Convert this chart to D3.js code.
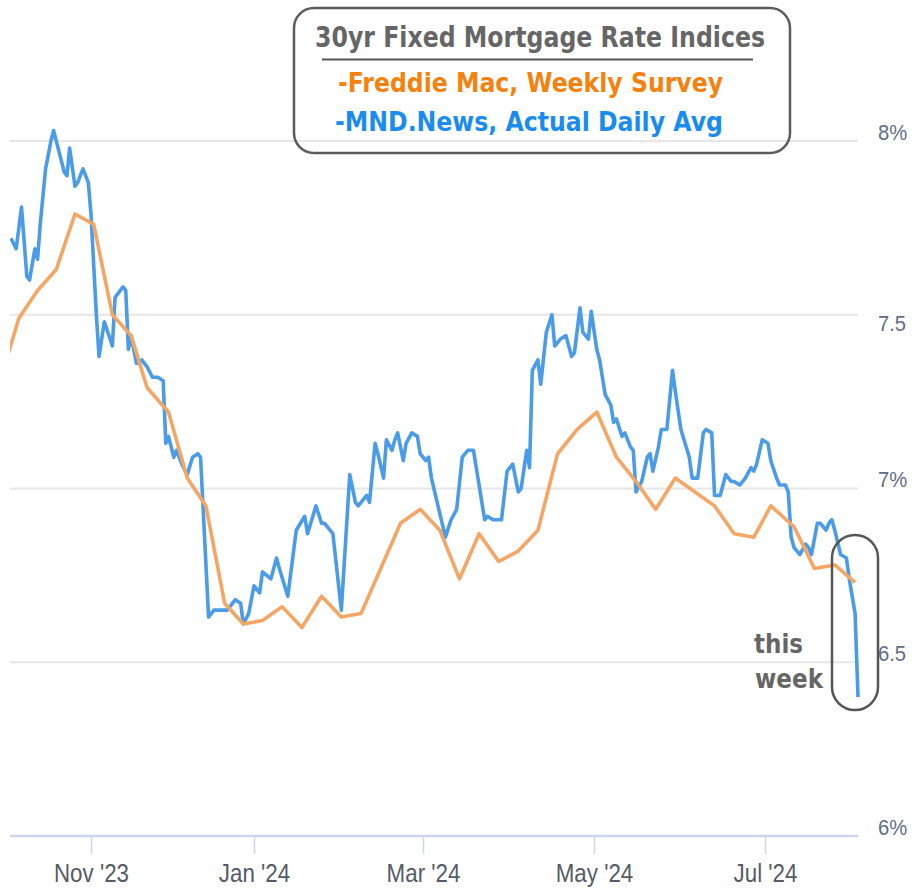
<!DOCTYPE html>
<html>
<head>
<meta charset="utf-8">
<script src="https://cdn.jsdelivr.net/npm/d3@7/dist/d3.min.js"></script>
<style>
  html, body { margin: 0; padding: 0; background: #fff; }
  svg { display: block; }
</style>
</head>
<body>
<div id="chart"></div>
<script>
// Freddie Mac weekly survey, 30yr fixed (%)
const freddieDates = [
  "2023-09-28", "2023-10-05", "2023-10-12", "2023-10-19", "2023-10-26",
  "2023-11-02", "2023-11-09", "2023-11-16", "2023-11-22", "2023-11-30",
  "2023-12-07", "2023-12-14", "2023-12-21", "2023-12-28",
  "2024-01-04", "2024-01-11", "2024-01-18", "2024-01-25",
  "2024-02-01", "2024-02-08", "2024-02-15", "2024-02-22", "2024-02-29",
  "2024-03-07", "2024-03-14", "2024-03-21", "2024-03-28",
  "2024-04-04", "2024-04-11", "2024-04-18", "2024-04-25",
  "2024-05-02", "2024-05-09", "2024-05-16", "2024-05-23", "2024-05-30",
  "2024-06-06", "2024-06-13", "2024-06-20", "2024-06-27",
  "2024-07-03", "2024-07-11", "2024-07-18", "2024-07-25", "2024-08-01"
];
const freddieRates = [
  7.31, 7.49, 7.57, 7.63, 7.79,
  7.76, 7.50, 7.44, 7.29, 7.22,
  7.03, 6.95, 6.67, 6.61,
  6.62, 6.66, 6.60, 6.69,
  6.63, 6.64, 6.77, 6.90, 6.94,
  6.88, 6.74, 6.87, 6.79,
  6.82, 6.88, 7.10, 7.17,
  7.22, 7.09, 7.02, 6.94, 7.03,
  6.99, 6.95, 6.87, 6.86,
  6.95, 6.89, 6.77, 6.78, 6.73
];

// MND daily index, 30yr fixed (%)
const mndDates = [
  "2023-10-02", "2023-10-04", "2023-10-06", "2023-10-08", "2023-10-09", "2023-10-11", "2023-10-12",
  "2023-10-13", "2023-10-15", "2023-10-17", "2023-10-18", "2023-10-20", "2023-10-22", "2023-10-23",
  "2023-10-24", "2023-10-26", "2023-10-27", "2023-10-29", "2023-10-31",
  "2023-11-01", "2023-11-03", "2023-11-04", "2023-11-06", "2023-11-09", "2023-11-10", "2023-11-13",
  "2023-11-14", "2023-11-15", "2023-11-16", "2023-11-18", "2023-11-20", "2023-11-22", "2023-11-24",
  "2023-11-26", "2023-11-28", "2023-11-29", "2023-11-30",
  "2023-12-02", "2023-12-03", "2023-12-05", "2023-12-07", "2023-12-09", "2023-12-11", "2023-12-12",
  "2023-12-15", "2023-12-17", "2023-12-19", "2023-12-21", "2023-12-22", "2023-12-24", "2023-12-25",
  "2023-12-27", "2023-12-28", "2023-12-30",
  "2024-01-01", "2024-01-03", "2024-01-04", "2024-01-07", "2024-01-09", "2024-01-10", "2024-01-13",
  "2024-01-16", "2024-01-19", "2024-01-20", "2024-01-23", "2024-01-25", "2024-01-26", "2024-01-28",
  "2024-01-29",
  "2024-02-01", "2024-02-04", "2024-02-06", "2024-02-07", "2024-02-09", "2024-02-10", "2024-02-11",
  "2024-02-13", "2024-02-14", "2024-02-16", "2024-02-17", "2024-02-19", "2024-02-20", "2024-02-21",
  "2024-02-23", "2024-02-24", "2024-02-26", "2024-02-28", "2024-02-29",
  "2024-03-02", "2024-03-03", "2024-03-04", "2024-03-09", "2024-03-11", "2024-03-13", "2024-03-15",
  "2024-03-17", "2024-03-19", "2024-03-23", "2024-03-24", "2024-03-26", "2024-03-29", "2024-03-31",
  "2024-04-02", "2024-04-04", "2024-04-05", "2024-04-07", "2024-04-08", "2024-04-09", "2024-04-11",
  "2024-04-12", "2024-04-14", "2024-04-16", "2024-04-17", "2024-04-19", "2024-04-21", "2024-04-23",
  "2024-04-24", "2024-04-26", "2024-04-27", "2024-04-29", "2024-04-30",
  "2024-05-02", "2024-05-03", "2024-05-05", "2024-05-07", "2024-05-08", "2024-05-09", "2024-05-11",
  "2024-05-12", "2024-05-14", "2024-05-15", "2024-05-16", "2024-05-18", "2024-05-20", "2024-05-21",
  "2024-05-22", "2024-05-24", "2024-05-25", "2024-05-27", "2024-05-29", "2024-05-30",
  "2024-06-01", "2024-06-04", "2024-06-05", "2024-06-07", "2024-06-09", "2024-06-10", "2024-06-12",
  "2024-06-13", "2024-06-15", "2024-06-16", "2024-06-17", "2024-06-19", "2024-06-20", "2024-06-22",
  "2024-06-24", "2024-06-26", "2024-06-27", "2024-06-28", "2024-06-30",
  "2024-07-02", "2024-07-03", "2024-07-05", "2024-07-06", "2024-07-08", "2024-07-09", "2024-07-10",
  "2024-07-11", "2024-07-13", "2024-07-15", "2024-07-16", "2024-07-17", "2024-07-19", "2024-07-20",
  "2024-07-22", "2024-07-23", "2024-07-24", "2024-07-25", "2024-07-27", "2024-07-29", "2024-07-30",
  "2024-08-01", "2024-08-02"
];
const mndRates = [
  7.72, 7.69, 7.81, 7.61, 7.60, 7.69, 7.66,
  7.76, 7.92, 8.00, 8.03, 7.97, 7.91, 7.90,
  7.98, 7.87, 7.88, 7.92, 7.88,
  7.79, 7.50, 7.38, 7.48, 7.41, 7.55, 7.58,
  7.57, 7.40, 7.44, 7.36, 7.37, 7.35, 7.32,
  7.32, 7.31, 7.13, 7.15,
  7.09, 7.11, 7.07, 7.04, 7.09, 7.10, 7.09,
  6.63, 6.65, 6.65, 6.65, 6.65, 6.67, 6.68,
  6.67, 6.61, 6.64,
  6.72, 6.70, 6.76, 6.74, 6.80, 6.77, 6.69,
  6.88, 6.92, 6.87, 6.95, 6.90, 6.90, 6.88,
  6.87,
  6.65, 7.04, 6.96, 6.95, 6.97, 6.98, 6.96,
  7.13, 7.10, 7.03, 7.14, 7.11, 7.14, 7.16,
  7.08, 7.13, 7.16, 7.15, 7.10,
  7.08, 7.09, 7.03, 6.86, 6.91, 6.94, 7.09,
  7.11, 7.11, 6.91, 6.92, 6.91, 6.91, 7.05,
  7.07, 6.99, 7.00, 7.11, 7.06, 7.34, 7.37,
  7.30, 7.45, 7.50, 7.41, 7.43, 7.44, 7.38,
  7.39, 7.52, 7.45, 7.43, 7.51,
  7.40, 7.37, 7.27, 7.24, 7.19, 7.20, 7.15,
  7.16, 7.12, 7.11, 6.99, 7.02, 7.09, 7.10,
  7.05, 7.12, 7.17, 7.17, 7.34, 7.28,
  7.17, 7.09, 7.03, 7.03, 7.16, 7.17, 7.16,
  6.98, 6.98, 7.01, 7.04, 7.02, 7.02, 7.01,
  7.03, 7.06, 7.05, 7.07, 7.14,
  7.13, 7.08, 7.03, 7.01, 7.01, 6.99, 6.86,
  6.83, 6.81, 6.84, 6.83, 6.81, 6.90, 6.90,
  6.88, 6.90, 6.91, 6.88, 6.81, 6.80, 6.74,
  6.64, 6.40
];

const yTicks = [6, 6.5, 7, 7.5, 8];
// the half-point labels run off the right edge in the source, only "7.5" / "6.5" show
const yTickLabels = ["6%", "6.5", "7%", "7.5", "8%"];
const xTickDates = ["2023-11-01", "2024-01-01", "2024-03-01", "2024-05-01", "2024-07-01"];
const lastDay = "2024-08-02";

const titleText = "30yr Fixed Mortgage Rate Indices";
const freddieLabel = "-Freddie Mac, Weekly Survey";
const mndLabel = "-MND.News, Actual Daily Avg";

// ---- setup
const width = 913;
const height = 888;
const plotLeft = 10;
const plotRight = 858;

const parse = d3.timeParse("%Y-%m-%d");
const freddie = freddieDates.map((d, i) => ({ date: parse(d), rate: freddieRates[i] }));
const mnd = mndDates.map((d, i) => ({ date: parse(d), rate: mndRates[i] }));
const xTicks = xTickDates.map(parse);

const svg = d3.select("#chart")
  .append("svg")
  .attr("width", width)
  .attr("height", height)
  .style("background", "#fff");

// the source axis is not evenly spaced between months, so use a piecewise time scale
const x = d3.scaleTime()
  .domain([...xTicks, parse(lastDay)])
  .range([91, 254, 423, 594, 765, 858]);

const y = d3.scaleLinear()
  .domain([6, 8])
  .range([836, 141]);

// gridlines
svg.append("g")
  .selectAll("line")
  .data(yTicks.filter(v => v > 6))
  .enter()
  .append("line")
  .attr("x1", plotLeft)
  .attr("x2", plotRight)
  .attr("y1", d => y(d))
  .attr("y2", d => y(d))
  .attr("stroke", "#e6e6e6")
  .attr("stroke-width", 2);

// x axis
const xAxis = svg.append("g")
  .attr("transform", `translate(0,${y(6)})`)
  .call(d3.axisBottom(x)
    .tickValues(xTicks)
    .tickFormat(d3.timeFormat("%b '%y"))
    .tickSize(18)
    .tickPadding(10));
xAxis.select(".domain").remove();
xAxis.selectAll(".tick line").attr("stroke", "#ccd6eb").attr("stroke-width", 1.5);
xAxis.selectAll(".tick text")
  .attr("fill", "#555b66")
  .attr("transform", "scale(0.86,1)")
  .style("font-family", "'Liberation Sans', Arial, sans-serif")
  .style("font-size", "26px");

svg.append("line")
  .attr("x1", plotLeft)
  .attr("x2", plotRight)
  .attr("y1", y(6))
  .attr("y2", y(6))
  .attr("stroke", "#ccd6eb")
  .attr("stroke-width", 2.5);

// y axis labels on the right (the 7.5 label sits lower than the rest in the source)
const yAxis = svg.append("g")
  .attr("transform", "translate(878,0)")
  .call(d3.axisRight(y)
    .tickValues(yTicks)
    .tickFormat((d, i) => yTickLabels[i])
    .tickSize(0)
    .tickPadding(0));
yAxis.select(".domain").remove();
yAxis.selectAll(".tick text")
  .attr("y", d => d === 7.5 ? 9 : -9)
  .attr("fill", "#5f6d88")
  .attr("transform", "scale(0.92,1)")
  .style("font-family", "'Liberation Sans', Arial, sans-serif")
  .style("font-size", "22px");

// lines
svg.append("clipPath")
  .attr("id", "plot-clip")
  .append("rect")
  .attr("x", plotLeft)
  .attr("y", 0)
  .attr("width", plotRight - plotLeft + 2)
  .attr("height", height);

const line = d3.line()
  .x(d => x(d.date))
  .y(d => y(d.rate));

const lines = svg.append("g").attr("clip-path", "url(#plot-clip)");

lines.append("path")
  .datum(mnd)
  .attr("d", line)
  .attr("fill", "none")
  .attr("stroke", "#4a9be8")
  .attr("stroke-width", 3.6)
  .attr("stroke-linejoin", "round");

lines.append("path")
  .datum(freddie)
  .attr("d", line)
  .attr("fill", "none")
  .attr("stroke", "#f5a664")
  .attr("stroke-width", 3.6)
  .attr("stroke-linejoin", "round");

// legend box
const legend = svg.append("g");
legend.append("rect")
  .attr("x", 294)
  .attr("y", 8)
  .attr("width", 496)
  .attr("height", 145)
  .attr("rx", 20)
  .attr("fill", "none")
  .attr("stroke", "#5c5c5c")
  .attr("stroke-width", 2.5);

legend.append("text")
  .attr("x", 540)
  .attr("y", 47)
  .attr("text-anchor", "middle")
  .attr("textLength", 450)
  .attr("lengthAdjust", "spacingAndGlyphs")
  .style("font-family", "'DejaVu Sans', Verdana, sans-serif")
  .style("font-weight", "bold")
  .style("font-size", "29px")
  .attr("fill", "#666")
  .text(titleText);

legend.append("line")
  .attr("x1", 322)
  .attr("x2", 753)
  .attr("y1", 59.5)
  .attr("y2", 59.5)
  .attr("stroke", "#555")
  .attr("stroke-width", 2);

legend.append("text")
  .attr("x", 338)
  .attr("y", 92)
  .attr("textLength", 385)
  .attr("lengthAdjust", "spacingAndGlyphs")
  .style("font-family", "'DejaVu Sans', Verdana, sans-serif")
  .style("font-weight", "bold")
  .style("font-size", "26px")
  .attr("fill", "#f5820f")
  .text(freddieLabel);

legend.append("text")
  .attr("x", 335)
  .attr("y", 131)
  .attr("textLength", 388)
  .attr("lengthAdjust", "spacingAndGlyphs")
  .style("font-family", "'DejaVu Sans', Verdana, sans-serif")
  .style("font-weight", "bold")
  .style("font-size", "26px")
  .attr("fill", "#1a8cf0")
  .text(mndLabel);

// "this week" callout around the last points
const lastX = x(parse(lastDay));
svg.append("rect")
  .attr("x", lastX - 26)
  .attr("y", 535)
  .attr("width", 46)
  .attr("height", 175)
  .attr("rx", 23)
  .attr("fill", "none")
  .attr("stroke", "#555")
  .attr("stroke-width", 2.5);

const note = svg.append("g")
  .style("font-family", "'DejaVu Sans', Verdana, sans-serif")
  .style("font-weight", "bold")
  .style("font-size", "26px")
  .attr("fill", "#666");
note.append("text")
  .attr("x", 754)
  .attr("y", 653)
  .attr("textLength", 49)
  .attr("lengthAdjust", "spacingAndGlyphs")
  .text("this");
note.append("text")
  .attr("x", 755)
  .attr("y", 688)
  .attr("textLength", 68)
  .attr("lengthAdjust", "spacingAndGlyphs")
  .text("week");
</script>
</body>
</html>
